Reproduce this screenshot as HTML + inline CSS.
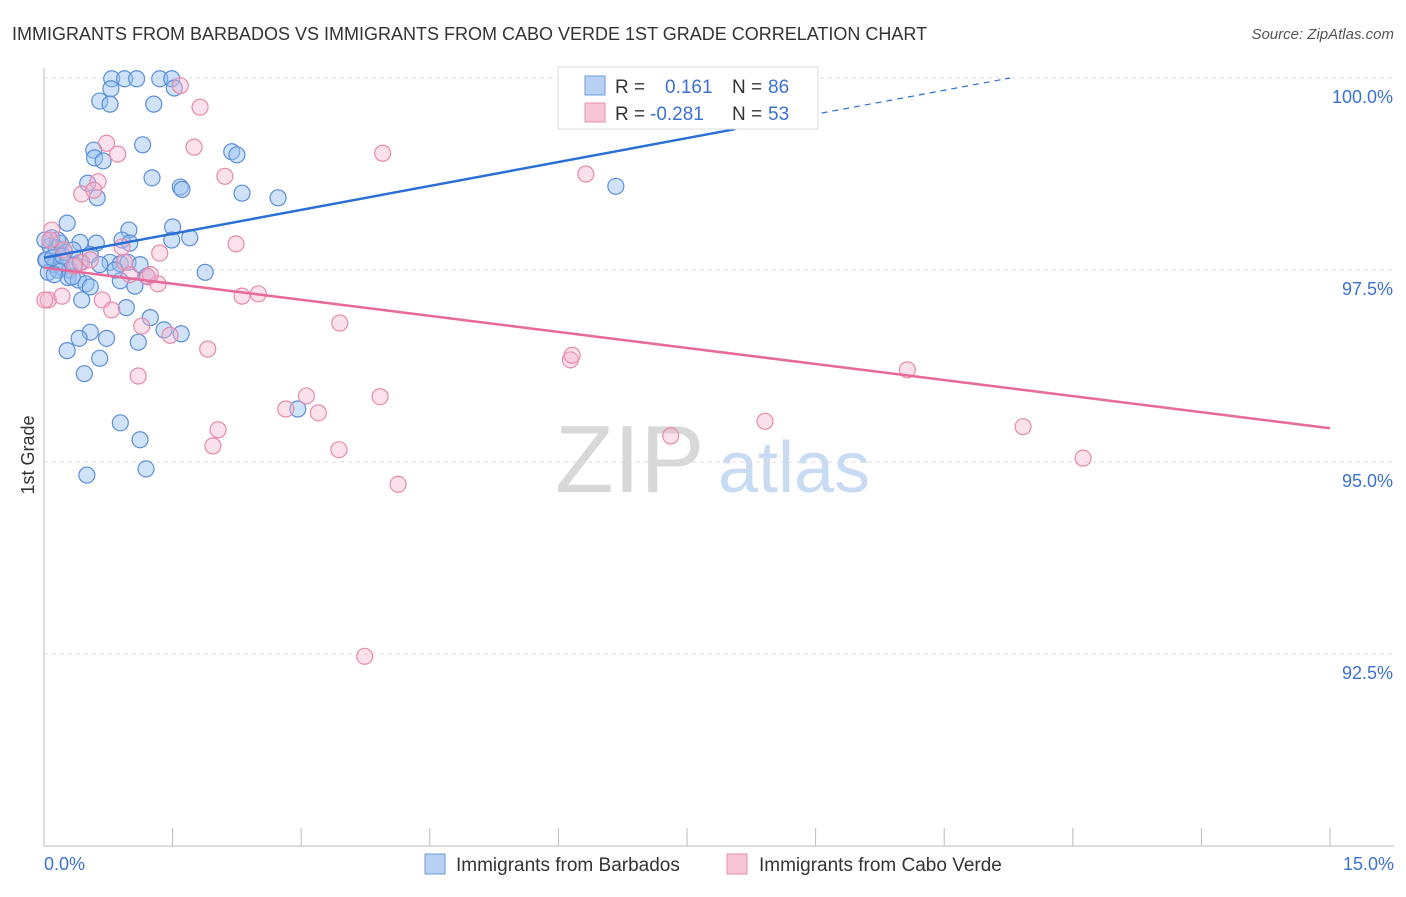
<!DOCTYPE html>
<html><head><meta charset="utf-8"><style>
body{margin:0;background:#fff;font-family:"Liberation Sans",sans-serif;}
svg text{font-family:"Liberation Sans",sans-serif;}
</style></head><body>
<svg id="chart" width="1406" height="892" xmlns="http://www.w3.org/2000/svg">
<text x="12" y="40" font-size="18" fill="#333">IMMIGRANTS FROM BARBADOS VS IMMIGRANTS FROM CABO VERDE 1ST GRADE CORRELATION CHART</text>
<text x="1394" y="39" font-size="15" fill="#555" font-style="italic" text-anchor="end">Source: ZipAtlas.com</text>
<text x="34" y="455" font-size="18" fill="#333" text-anchor="middle" transform="rotate(-90 34 455)">1st Grade</text>
<g>
<text x="555" y="492" font-size="96" fill="#d8d8d8" font-family="Liberation Serif">ZIP</text>
<text x="718" y="492" font-size="72" fill="#c9dbf2">atlas</text>
</g>
<g id="grid"></g>
<g id="axes"></g>
<g id="pts"></g>
<g id="lines"></g>
<g>
<rect x="558" y="67" width="260" height="62" fill="#fff" stroke="#ddd"/>
<rect x="585" y="76" width="20" height="19" fill="#b8d1f3" stroke="#6a9be0"/>
<rect x="585" y="103" width="20" height="19" fill="#f8c6d6" stroke="#ea8fae"/>
<text x="615" y="93" font-size="19" fill="#333">R =</text>
<text x="665" y="93" font-size="19" fill="#3b72d0">0.161</text>
<text x="732" y="93" font-size="19" fill="#333">N =</text>
<text x="768" y="93" font-size="19" fill="#3b72d0">86</text>
<text x="615" y="120" font-size="19" fill="#333">R =</text>
<text x="650" y="120" font-size="19" fill="#3b72d0">-0.281</text>
<text x="732" y="120" font-size="19" fill="#333">N =</text>
<text x="768" y="120" font-size="19" fill="#3b72d0">53</text>
</g>
<g>
<rect x="425" y="854" width="20" height="20" fill="#b8d1f3" stroke="#6a9be0"/>
<text x="456" y="871" font-size="19" fill="#333">Immigrants from Barbados</text>
<rect x="727" y="854" width="20" height="20" fill="#f8c6d6" stroke="#ea8fae"/>
<text x="759" y="871" font-size="19" fill="#333">Immigrants from Cabo Verde</text>
</g>
</svg>
<script>
const yTicks=[100,97.5,95,92.5];
const yTickLabels=["100.0%","97.5%","95.0%","92.5%"];
const xTickCount=10;
const xLabels=["0.0%","15.0%"];
const blueX=[0.79,0.94,1.08,1.35,1.49,0.78,1.52,0.65,0.77,1.28,1.15,0.58,0.59,0.69,1.26,0.51,1.59,1.61,0.62,2.19,2.25,2.31,2.73,6.67,0.27,0.99,1.50,0.09,0.19,0.42,0.61,0.91,1.00,1.49,1.70,0.07,0.14,0.24,0.54,0.03,0.13,0.21,0.30,0.36,0.42,0.77,0.89,0.98,1.88,0.05,0.16,0.28,0.40,0.49,0.33,0.54,0.44,0.89,1.06,1.20,0.96,1.24,1.40,1.60,0.54,0.41,0.73,1.10,0.27,0.65,0.47,0.89,1.12,2.96,0.50,1.19,0.02,0.10,0.22,0.65,0.16,0.34,0.01,0.83,1.12,0.12];
const blueY=[99.99,99.99,99.99,99.99,99.99,99.86,99.87,99.70,99.66,99.66,99.13,99.06,98.96,98.92,98.70,98.63,98.58,98.55,98.44,99.04,99.00,98.50,98.44,98.59,98.11,98.02,98.06,97.92,97.85,97.86,97.85,97.89,97.85,97.89,97.92,97.81,97.79,97.73,97.70,97.63,97.57,97.53,97.50,97.57,97.60,97.60,97.58,97.60,97.47,97.47,97.50,97.40,97.37,97.32,97.41,97.28,97.11,97.36,97.29,97.42,97.01,96.88,96.72,96.67,96.69,96.61,96.61,96.56,96.45,96.35,96.15,95.51,95.29,95.69,94.83,94.91,97.63,97.66,97.68,97.57,97.89,97.76,97.89,97.50,97.57,97.44];
const pinkX=[1.59,1.82,0.73,0.86,1.75,3.95,0.63,0.44,0.58,2.11,6.32,0.09,0.07,2.24,1.35,0.91,0.23,0.94,0.44,1.21,1.33,1.24,0.05,0.21,0.68,2.31,2.50,0.79,1.14,1.47,3.45,1.91,6.14,6.16,10.07,1.10,3.06,3.92,2.82,3.20,2.03,1.97,3.44,7.31,8.41,11.42,12.12,4.13,3.74,0.01,0.54,0.35,1.00,8.62];
const pinkY=[99.90,99.62,99.15,99.01,99.10,99.02,98.65,98.49,98.54,98.72,98.75,98.02,97.89,97.84,97.72,97.80,97.76,97.60,97.60,97.41,97.32,97.44,97.11,97.16,97.11,97.16,97.19,96.98,96.77,96.65,96.81,96.47,96.33,96.39,96.20,96.12,95.86,95.85,95.69,95.64,95.42,95.21,95.16,95.34,95.53,95.46,95.05,94.71,92.47,97.11,97.63,97.55,97.44,99.97];
const blueTrend=[97.66,100.0]; const blueTrendX=[0,11.27]; const blueSolidEnd=8.06;
const pinkTrend=[97.53,95.44]; const pinkTrendX=[0,15];

const NS="http://www.w3.org/2000/svg";
const X0=44,X1=1330,Y100=78,PXPER=76.8;
const xs=v=>X0+(v/15)*(X1-X0);
const ys=v=>Y100+(100-v)*PXPER;
function mk(t,a,p){const e=document.createElementNS(NS,t);for(const k in a)e.setAttribute(k,a[k]);p.appendChild(e);return e;}
const grid=document.getElementById('grid'),axes=document.getElementById('axes'),pts=document.getElementById('pts'),lines=document.getElementById('lines');
yTicks.forEach((t,i)=>{
 const l=mk('line',{x1:X0,x2:1394,y1:ys(t),y2:ys(t),stroke:'#ddd','stroke-dasharray':'4 4'},grid);
 
 
 const tx=mk('text',{x:1393,y:ys(t)+25,'font-size':18,fill:'#3b72d0','text-anchor':'end'},axes);
 tx.textContent=yTickLabels[i];
 
 
});
const ya=mk('line',{x1:X0,x2:X0,y1:68,y2:846,stroke:'#bbb'},axes);


const xa=mk('line',{x1:X0,x2:1394,y1:846,y2:846,stroke:'#bbb'},axes);


for(let i=0;i<=xTickCount;i++){
 const v=15*i/xTickCount;
 const t=mk('line',{x1:xs(v),x2:xs(v),y1:828,y2:846,stroke:'#bbb'},axes);
 
 
}
[[0,'start',44],[15,'end',1394]].forEach((d,i)=>{
 const t=mk('text',{x:d[2],y:870,'font-size':18,fill:'#3b72d0','text-anchor':d[1]},axes);
 t.textContent=xLabels[i];
 
 
});
blueX.forEach((x,i)=>{
 const c=mk('circle',{cx:xs(x),cy:ys(blueY[i]),r:8,fill:'rgba(150,190,240,0.45)',stroke:'#5b8fd9','stroke-width':1.2},pts);
 
 
});
pinkX.forEach((x,i)=>{
 const c=mk('circle',{cx:xs(x),cy:ys(pinkY[i]),r:8,fill:'rgba(245,180,205,0.4)',stroke:'#e88aab','stroke-width':1.2},pts);
 
 
});
const bAt=x=>blueTrend[0]+(blueTrend[1]-blueTrend[0])*(x-blueTrendX[0])/(blueTrendX[1]-blueTrendX[0]);
const bl=mk('line',{x1:xs(blueTrendX[0]),y1:ys(bAt(blueTrendX[0])),x2:xs(blueSolidEnd),y2:ys(bAt(blueSolidEnd)),stroke:'#2a6fd6','stroke-width':2.5},lines);


const bd=mk('line',{x1:xs(blueSolidEnd),y1:ys(bAt(blueSolidEnd)),x2:xs(blueTrendX[1]),y2:ys(bAt(blueTrendX[1])),stroke:'#2a6fd6','stroke-width':1.2,'stroke-dasharray':'6 5'},lines);


const pl=mk('line',{x1:xs(pinkTrendX[0]),y1:ys(pinkTrend[0]),x2:xs(pinkTrendX[1]),y2:ys(pinkTrend[1]),stroke:'#e8689a','stroke-width':2.5},lines);


</script>
</body></html>
